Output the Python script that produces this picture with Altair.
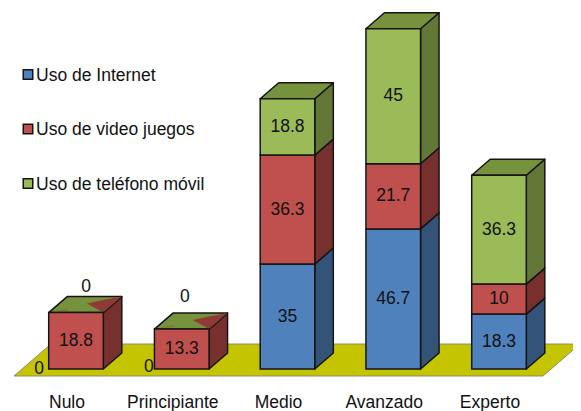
import altair as alt
import pandas as pd

categories = ["Nulo", "Principiante", "Medio", "Avanzado", "Experto"]
series_names = ["Uso de Internet", "Uso de video juegos", "Uso de teléfono móvil"]
internet = [0, 0, 35, 46.7, 18.3]
video = [18.8, 13.3, 36.3, 21.7, 10]
movil = [0, 0, 18.8, 45, 36.3]

FRONT = ["#4F81BD", "#C0504D", "#9BBB59"]
SIDE = ["#335378", "#77302E", "#637736"]
TOP = "#76923C"
WEDGE = "#8F3A36"
SLIVER = "#8A6A3A"
FLOOR = "#C4C400"
EDGE = "#141414"
INK = "#111111"

# one category step = 105.75 px, one value unit = 3 px
PX_X, PX_Y = 105.75, 3.0
HALF = 27.3 / PX_X
DX, DY = 18.5 / PX_X, 16 / PX_Y
W, H = 565, 403
BASE = 369
X_DOMAIN = [(8 - 76) / PX_X, (8 + W - 76) / PX_X]
Y_DOMAIN = [(BASE - 8 - H) / PX_Y, (BASE - 8) / PX_Y]


def sx(a):
    return a / PX_X


def sy(a):
    return a / PX_Y


faces, fronts, labels, wedges = [], [], [], []
fid = 0


def add(rows, color):
    global fid
    fid += 1
    for x, lo, hi in rows:
        faces.append(dict(x=x, lo=lo, hi=hi, c=color, id=fid))


zero_nudge = {
    ("Nulo", 0): (-37, 0), ("Nulo", 2): (10, -26),
    ("Principiante", 0): (-33, -2), ("Principiante", 2): (3, -32),
}

for i, cat in enumerate(categories):
    base = 0.0
    x0, x1 = i - HALF, i + HALF
    for s, vals in enumerate([internet, video, movil]):
        v = vals[i]
        top = base + v
        if v > 0:
            fronts.append(dict(x=x0, x2=x1, y=base, y2=top, c=FRONT[s]))
            add([(x1, base, top), (x1 + DX, base + DY, top + DY)], SIDE[s])
            labels.append(dict(x=i, y=(base + top) / 2, t=f"{v:g}"))
        else:
            ox, oy = zero_nudge[(cat, s)]
            labels.append(dict(x=i + sx(ox), y=base - sy(oy), t="0"))
        base = top
    add([(x0, base, base), (x0 + DX, base, base + DY),
         (x1, base, base + DY), (x1 + DX, base + DY, base + DY)], TOP)
    if movil[i] == 0:
        fid += 1
        for x, lo, hi in [(x1 - sx(16.3), base + sy(9.2), base + sy(9.2)),
                          (x1, base, base + sy(12.7)),
                          (x1 + DX, base + DY, base + DY)]:
            wedges.append(dict(x=x, lo=lo, hi=hi, c=WEDGE, id=fid))
        fid += 1
        for x, lo, hi in [(x0 + sx(6), base + sy(1.5), base + sy(1.5)),
                          (x0 + sx(19), base + sy(2.2), base + sy(3.8))]:
            wedges.append(dict(x=x, lo=lo, hi=hi, c=SLIVER, id=fid))

floor_rows = [
    dict(x=(14 - 76) / PX_X, lo=sy(-7), hi=sy(-7), id=0),
    dict(x=(51 - 76) / PX_X, lo=sy(-7), hi=sy(25), id=0),
    dict(x=(543 - 76) / PX_X, lo=sy(-7), hi=sy(25), id=0),
    dict(x=(580 - 76) / PX_X, lo=sy(25), hi=sy(25), id=0),
]

cat_rows = [dict(x=i + sx(-9), y=sy(-34), t=c) for i, c in enumerate(categories)]
legend_y = [sy(BASE - 75.5), sy(BASE - 130), sy(BASE - 184.5)]
legend_sq = [dict(x=(28 - 76) / PX_X, y=y + sy(1), c=c) for y, c in zip(legend_y, FRONT)]
legend_tx = [dict(x=(36 - 76) / PX_X, y=y, t=t) for y, t in zip(legend_y, series_names)]

X = alt.X("x:Q", scale=alt.Scale(domain=X_DOMAIN, nice=False, zero=False), axis=None)
Yh = alt.Y("hi:Q", scale=alt.Scale(domain=Y_DOMAIN, nice=False, zero=False), axis=None)
Yv = alt.Y("y:Q", scale=alt.Scale(domain=Y_DOMAIN, nice=False, zero=False), axis=None)
FILL = alt.Color("c:N", scale=None, legend=None)


def D(rows):
    return alt.Chart(pd.DataFrame(rows))


floor = D(floor_rows).mark_area(fill=FLOOR, stroke="#8a8a70", strokeWidth=1, clip=False).encode(
    x=X, y=Yh, y2="lo:Q", detail="id:N")
sides = D(faces).mark_area(stroke=EDGE, strokeWidth=1.5, strokeJoin="round").encode(
    x=X, y=Yh, y2="lo:Q", color=FILL, detail="id:N")
wedge = D(wedges).mark_area().encode(
    x=X, y=Yh, y2="lo:Q", color=FILL, detail="id:N")
front = D(fronts).mark_rect(stroke=EDGE, strokeWidth=1.5).encode(
    x=X, x2="x2:Q", y=Yv, y2="y2:Q", color=FILL)
FONT = dict(font="Liberation Sans", fontSize=17.5, color=INK)
value_text = D(labels).mark_text(baseline="middle", **FONT).encode(x=X, y=Yv, text="t:N")
cat_text = D(cat_rows).mark_text(baseline="middle", **FONT).encode(x=X, y=Yv, text="t:N")
leg_sq = D(legend_sq).mark_square(size=90, opacity=1, stroke=EDGE, strokeWidth=1.5).encode(
    x=X, y=Yv, color=FILL)
leg_tx = D(legend_tx).mark_text(align="left", baseline="middle", **FONT).encode(
    x=X, y=Yv, text="t:N")

chart = alt.layer(floor, sides, wedge, front, value_text, cat_text, leg_sq, leg_tx).properties(
    width=W, height=H, padding=0, autosize=alt.AutoSizeParams(type="none")
).configure_view(stroke=None)

chart.save("out.html", embed_options={"renderer": "svg", "actions": False})
